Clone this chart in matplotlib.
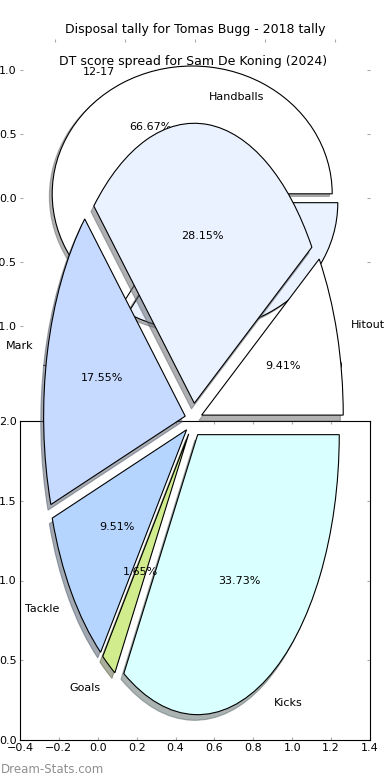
import matplotlib
matplotlib.use('Agg')
import matplotlib.pyplot as plt

# DT score spread (upper panel pie)
dt_ranges = ['12-17', '18-23']
dt_counts = [2, 1]

# Disposal tally (percentages)
disp_types = ['Hitout', 'Handballs', 'Mark', 'Tackle', 'Goals', 'Kicks']
disp_share = [9.41, 28.15, 17.55, 9.51, 1.65, 33.73]

colours = ['white', '#eaf2ff', '#c6d9ff', '#b5d5ff', '#d0ec8c', '#d9ffff']

W, H = 390, 780
fig = plt.figure(figsize=(W / 100, H / 100), dpi=100)


def px_axes(x0, y0, x1, y1):
    # axes placed from pixel box (top-left origin)
    return fig.add_axes([x0 / W, 1 - y1 / H, (x1 - x0) / W, (y1 - y0) / H])


ax_bot = px_axes(20, 421, 370, 740)
ax_top = px_axes(20, 38.5, 370, 358)
ax_pie = px_axes(16.5, 70, 370.5, 770)

edge = {'edgecolor': 'black', 'linewidth': 0.8}
shadow = {'ox': -0.0145, 'oy': -0.0145, 'shade': 0.6}
tick_kw = dict(direction='in', top=True, right=True, color='#aaaaaa',
               length=2.5, labelsize=8, pad=2.5)

# bottom panel: empty frame
ax_bot.set_xlim(-0.4, 1.4)
ax_bot.set_ylim(0, 2)
ax_bot.set_yticks([0, 0.5, 1.0, 1.5, 2.0])
ax_bot.tick_params(**tick_kw)

# upper panel
ax_top.pie(dt_counts, labels=dt_ranges, colors=colours[:2], explode=[0.04, 0.04],
           autopct='%1.2f%%', shadow=shadow, startangle=0, wedgeprops=edge,
           textprops={'fontsize': 8})
ax_top.set_aspect('auto')
ax_top.set_frame_on(False)
ax_top.set_xticks([-1, -0.5, 0, 0.5, 1])
ax_top.set_yticks([-1, -0.5, 0, 0.5, 1])
ax_top.tick_params(**tick_kw)
ax_top.set_title('Disposal tally for Tomas Bugg - 2018 tally', fontsize=9, pad=4)

# tall overlay pie
ax_pie.pie(disp_share, labels=disp_types, colors=colours, explode=[0.06] * 6,
           autopct='%1.2f%%', shadow=shadow, startangle=0, pctdistance=0.6,
           wedgeprops=edge, textprops={'fontsize': 8})
ax_pie.set_aspect('auto')
ax_pie.set_title('DT score spread for Sam De Koning (2024)', fontsize=9, pad=3.6)

fig.text(0.002, 1 - 769.5 / H, 'Dream-Stats.com', color='#8f8f8f', fontsize=8.5,
         ha='left', va='center')

fig.savefig('out.png', dpi=100)
